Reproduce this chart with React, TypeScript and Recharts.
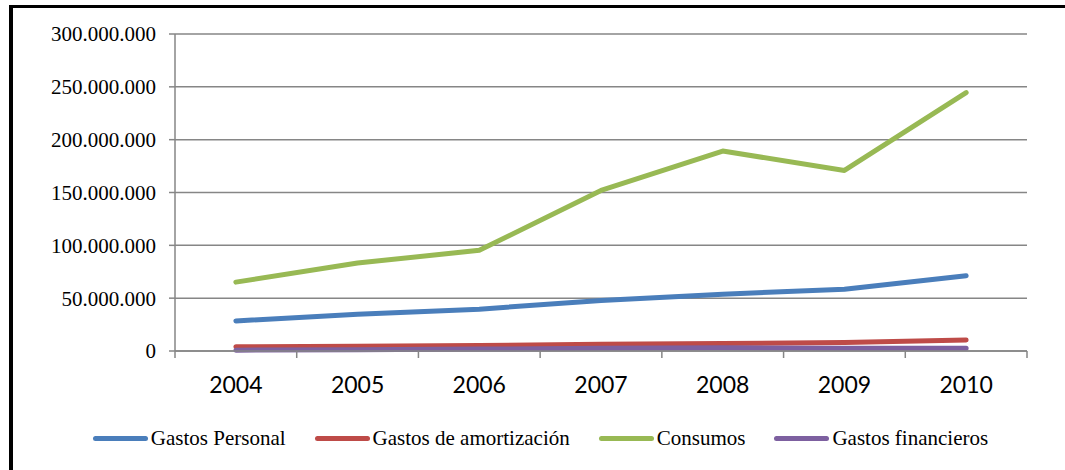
import { CartesianGrid, Legend, Line, LineChart, XAxis, YAxis } from "recharts";

const years = ["2004", "2005", "2006", "2007", "2008", "2009", "2010"];
const gastosPersonal = [28500000, 34800000, 39600000, 47800000, 53800000, 58500000, 71200000];
const gastosAmortizacion = [4000000, 4600000, 5300000, 6300000, 7000000, 8000000, 10400000];
const consumos = [65200000, 83200000, 95300000, 151900000, 189200000, 170900000, 244600000];
const gastosFinancieros = [800000, 1200000, 1800000, 2600000, 3100000, 2600000, 2600000];
const yTicks = [0, 50000000, 100000000, 150000000, 200000000, 250000000, 300000000];

const series = [
  { key: "personal", name: "Gastos Personal", color: "#4A7EBB" },
  { key: "amortizacion", name: "Gastos de amortización", color: "#BE4B48" },
  { key: "consumos", name: "Consumos", color: "#98B954" },
  { key: "financieros", name: "Gastos financieros", color: "#7D60A0" },
];

const data = years.map((year, i) => ({
  year,
  personal: gastosPersonal[i],
  amortizacion: gastosAmortizacion[i],
  consumos: consumos[i],
  financieros: gastosFinancieros[i],
}));

const GRAY = "#868686";
const SERIF = "Liberation Serif, Times New Roman, serif";
const SANS = "Lato, Open Sans, sans-serif";
const X_MARGIN = 26;
const X_MARK = 7;

const fmt = (v: number) => String(v).replace(/\B(?=(\d{3})+(?!\d))/g, ".");

function YTick({ x, y, payload }: any) {
  return (
    <text x={x} y={y} dy="0.355em" textAnchor="end" fill="#000" fontFamily={SERIF} fontSize={21}>
      {fmt(payload.value)}
    </text>
  );
}

// category label plus tick marks on the band edges (Excel style "between categories")
function XTick({ x, y, payload, visibleTicksCount }: any) {
  const half = payload.offset || 0;
  const axisY = y - X_MARGIN;
  const last = payload.index === visibleTicksCount - 1;
  return (
    <g>
      <line x1={x - half} x2={x - half} y1={axisY} y2={axisY + X_MARK} stroke={GRAY} strokeWidth={1.5} />
      {last && <line x1={x + half} x2={x + half} y1={axisY} y2={axisY + X_MARK} stroke={GRAY} strokeWidth={1.5} />}
      <text x={x} y={y} dy="0.71em" textAnchor="middle" fill="#000" fontFamily={SANS} fontSize={23}>
        {payload.value}
      </text>
    </g>
  );
}

function LegendRow({ payload }: any) {
  const items = [...(payload || [])].sort(
    (a: any, b: any) => series.findIndex((s) => s.name === a.value) - series.findIndex((s) => s.name === b.value)
  );
  return (
    <div style={{ display: "flex", justifyContent: "center", alignItems: "center", fontFamily: SERIF, fontSize: 21, color: "#000" }}>
      {items.map((p: any) => (
        <div key={p.value} style={{ display: "flex", alignItems: "center", marginRight: 29 }}>
          <span style={{ display: "inline-block", width: 55, height: 5, borderRadius: 3, background: p.color, marginRight: 3 }} />
          <span>{p.value}</span>
        </div>
      ))}
    </div>
  );
}

export default function App() {
  return (
    <div style={{ position: "absolute", left: 0, top: 0, width: 1065, height: 470, background: "#fff" }}>
      <div
        style={{
          position: "absolute",
          left: 9,
          top: 5,
          width: 1056,
          height: 465,
          boxSizing: "border-box",
          borderTop: "3px solid #000",
          borderLeft: "4px solid #000",
        }}
      />
      <div style={{ position: "absolute", left: 0, top: 0 }}>
        <LineChart width={1065} height={470} data={data} margin={{ top: 34, right: 38, left: 0, bottom: 59 }}>
          <CartesianGrid vertical={false} stroke={GRAY} strokeWidth={1.5} />
          <XAxis
            dataKey="year"
            scale="band"
            height={60}
            stroke={GRAY}
            strokeWidth={1.5}
            tickLine={false}
            tickSize={0}
            tickMargin={X_MARGIN}
            tick={XTick}
            interval={0}
          />
          <YAxis
            width={175}
            domain={[0, 300000000]}
            ticks={yTicks}
            tickSize={6}
            tickMargin={13}
            stroke={GRAY}
            strokeWidth={1.5}
            tick={YTick}
          />
          {series.map((s) => (
            <Line
              key={s.key}
              dataKey={s.key}
              name={s.name}
              stroke={s.color}
              strokeWidth={5}
              strokeLinecap="round"
              strokeLinejoin="round"
              dot={false}
              activeDot={false}
              isAnimationActive={false}
            />
          ))}
          <Legend
            layout="horizontal"
            verticalAlign="middle"
            align="center"
            content={LegendRow}
            wrapperStyle={{ top: 426, left: 55, width: 1000 }}
          />
        </LineChart>
      </div>
    </div>
  );
}
